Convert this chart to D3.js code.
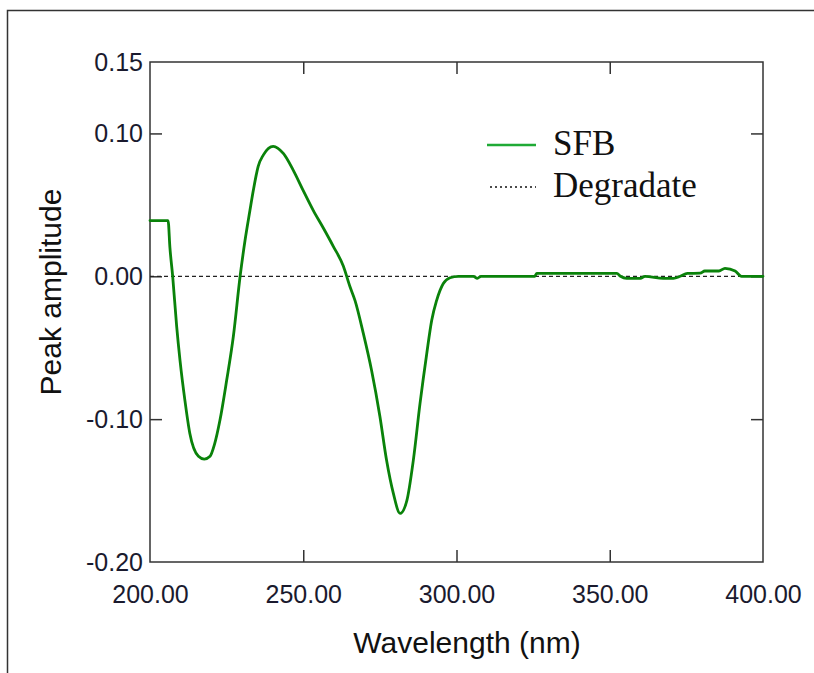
<!DOCTYPE html>
<html>
<head>
<meta charset="utf-8">
<script src="https://cdn.jsdelivr.net/npm/d3@7"></script>
<style>
  body { margin: 0; background: #fff; }
</style>
</head>
<body>
<div id="chart"></div>
<script>
// SFB spectrum, [wavelength nm, amplitude]
const sfb = [
  [200, 0.039], [205.9, 0.039], [206.5, 0.020], [207.4, 0.0], [208.7, -0.035],
  [209.8, -0.059], [211.4, -0.087], [213.0, -0.110], [215.8, -0.126], [217.7, -0.128],
  [219.6, -0.126], [221.0, -0.118], [222.8, -0.101], [225.0, -0.073], [227.2, -0.042],
  [229.4, 0.0], [231.0, 0.025], [232.6, 0.046], [233.7, 0.060], [235.3, 0.077],
  [237.0, 0.085], [240.2, 0.091], [243.5, 0.086], [246.8, 0.074], [250.0, 0.060],
  [253.3, 0.046], [256.5, 0.034], [259.8, 0.021], [263.1, 0.007], [265.2, -0.007],
  [266.9, -0.017], [269.6, -0.040], [272.3, -0.066], [275.0, -0.098], [277.2, -0.129],
  [279.4, -0.152], [281.6, -0.166], [283.8, -0.157], [285.9, -0.129], [288.1, -0.089],
  [290.3, -0.054], [291.9, -0.031], [293.5, -0.017], [295.7, -0.005], [297.9, -0.001],
  [300.6, 0.0], [305.5, 0.0], [306.8, -0.0014], [308.0, 0.0], [325.5, 0.0],
  [326.2, 0.002], [352.3, 0.002], [353.5, 0.0], [355.5, -0.0014], [360.0, -0.0014],
  [361.5, 0.0], [367.5, -0.0014], [370.8, -0.0014], [373.0, 0.0], [375.3, 0.002],
  [379.5, 0.0022], [381.0, 0.0037], [385.6, 0.0037], [387.6, 0.0056], [390.9, 0.0037],
  [393.0, 0.0], [400, 0.0]
]
// Degradate spectrum (flat at zero)
const degradate = [[200, 0], [400, 0]]

const xTickValues = [200, 250, 300, 350, 400]
const yTickValues = [0.15, 0.10, 0.00, -0.10, -0.20]
const legendLabels = ["SFB", "Degradate"]

const width = 814,
      height = 673,
      margin = {top: 62, right: 51, bottom: 111, left: 150}

let x = d3.scaleLinear()
    .domain([200, 400])
    .range([margin.left, width - margin.right])

let y = d3.scaleLinear()
    .domain([-0.20, 0.15])
    .range([height - margin.bottom, margin.top])

const axisColor = "#333"
const labelFont = "'Liberation Sans', Arial, sans-serif"
const serifFont = "'Liberation Serif', 'Times New Roman', serif"
const fmt = d => d.toFixed(2)

var svg = d3.select('#chart')
  .append("svg")
  .attr("width", width)
  .attr("height", height)

// outer frame (top and left edges)
svg.append("path")
  .attr("d", `M7.5,${height}V10.5H${width}`)
  .attr("fill", "none")
  .attr("stroke", axisColor)
  .attr("stroke-width", 1.5)

// plot box
svg.append("rect")
  .attr("x", x(200))
  .attr("y", y(0.15))
  .attr("width", x(400) - x(200))
  .attr("height", y(-0.20) - y(0.15))
  .attr("fill", "none")
  .attr("stroke", axisColor)
  .attr("stroke-width", 1.5)

let innerX = xTickValues.slice(1, -1)
let innerY = yTickValues.slice(1, -1)
const tickLen = 12

let axisStyle = g => g
  .call(g => g.select(".domain").remove())
  .call(g => g.selectAll(".tick line").attr("stroke", axisColor).attr("stroke-width", 1.5))

// inner ticks on all four sides
svg.append("g")
  .attr("transform", `translate(0,${y(-0.20)})`)
  .call(d3.axisTop(x).tickValues(innerX).tickSize(tickLen).tickFormat(""))
  .call(axisStyle)
svg.append("g")
  .attr("transform", `translate(0,${y(0.15)})`)
  .call(d3.axisBottom(x).tickValues(innerX).tickSize(tickLen).tickFormat(""))
  .call(axisStyle)
svg.append("g")
  .attr("transform", `translate(${x(200)},0)`)
  .call(d3.axisRight(y).tickValues(innerY).tickSize(tickLen).tickFormat(""))
  .call(axisStyle)
svg.append("g")
  .attr("transform", `translate(${x(400)},0)`)
  .call(d3.axisLeft(y).tickValues(innerY).tickSize(tickLen).tickFormat(""))
  .call(axisStyle)

// tick labels
svg.append("g")
  .attr("transform", `translate(0,${y(-0.20)})`)
  .call(d3.axisBottom(x).tickValues(xTickValues).tickSize(0).tickPadding(23).tickFormat(fmt))
  .call(g => g.select(".domain").remove())
  .call(g => g.selectAll("text")
      .attr("font-family", labelFont)
      .attr("font-size", 25)
      .attr("fill", "#1a1a2e"))

svg.append("g")
  .attr("transform", `translate(${x(200)},0)`)
  .call(d3.axisLeft(y).tickValues(yTickValues).tickSize(0).tickPadding(7).tickFormat(fmt))
  .call(g => g.select(".domain").remove())
  .call(g => g.selectAll("text")
      .attr("font-family", labelFont)
      .attr("font-size", 25)
      .attr("fill", "#1a1a2e"))

// axis titles
svg.append("text")
  .attr("x", 467)
  .attr("y", 653)
  .attr("text-anchor", "middle")
  .attr("font-family", labelFont)
  .attr("font-size", 30)
  .attr("fill", "#111")
  .text("Wavelength (nm)")

svg.append("text")
  .attr("transform", `translate(61,${(y(0.15) + y(-0.20)) / 2 - 20}) rotate(-90)`)
  .attr("text-anchor", "middle")
  .attr("font-family", labelFont)
  .attr("font-size", 30)
  .attr("fill", "#111")
  .text("Peak amplitude")

let line = d3.line()
    .curve(d3.curveMonotoneX)
    .x(d => x(d[0]))
    .y(d => y(d[1]))

// degradate baseline
svg.append("path")
  .datum(degradate)
  .attr("fill", "none")
  .attr("stroke", "#222")
  .attr("stroke-width", 1.2)
  .attr("stroke-dasharray", "4,3")
  .attr("d", line)

svg.append("path")
  .datum(sfb)
  .attr("fill", "none")
  .attr("stroke", "#0a820a")
  .attr("stroke-width", 2.8)
  .attr("stroke-linejoin", "round")
  .attr("stroke-linecap", "round")
  .attr("d", line)

// legend
let legend = svg.append("g")
  .attr("transform", "translate(487,0)")

legend.append("line")
  .attr("x1", 0).attr("x2", 49)
  .attr("y1", 145).attr("y2", 145)
  .attr("stroke", "#1faa35")
  .attr("stroke-width", 2.6)

legend.append("line")
  .attr("x1", 3).attr("x2", 49)
  .attr("y1", 187).attr("y2", 187)
  .attr("stroke", "#111")
  .attr("stroke-width", 1.6)
  .attr("stroke-dasharray", "2,3")

legend.selectAll("text.lbl")
  .data(legendLabels)
  .join("text")
  .attr("class", "lbl")
  .attr("x", 66)
  .attr("y", (d, i) => 155 + i * 42)
  .attr("font-family", serifFont)
  .attr("font-size", 35)
  .attr("fill", "#111")
  .text(d => d)
</script>
</body>
</html>
